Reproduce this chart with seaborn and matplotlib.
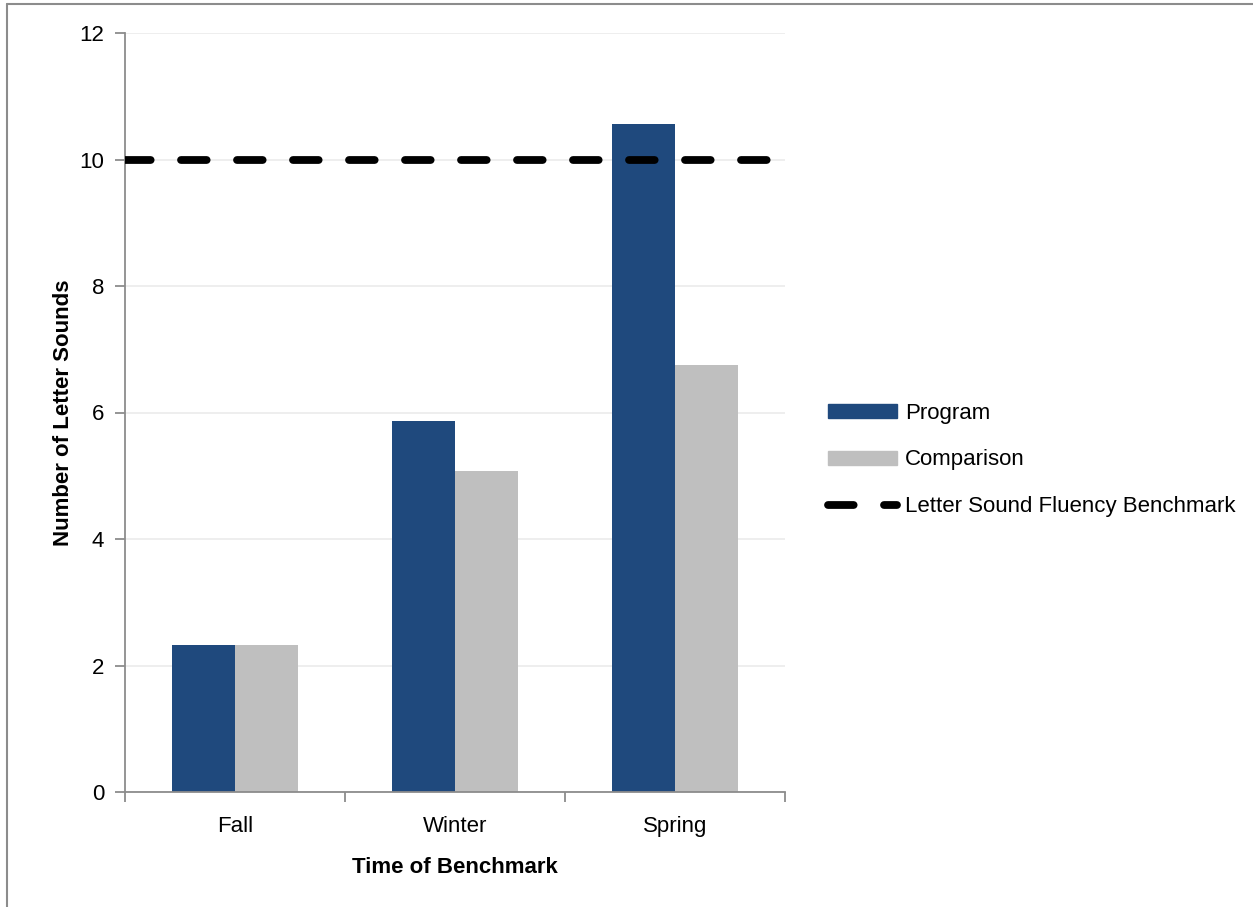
import matplotlib
matplotlib.use('Agg')
import matplotlib.pyplot as plt
import matplotlib.lines as mlines
import matplotlib.patches as mpatches
import seaborn as sns
import pandas as pd

# data
seasons = ['Fall', 'Winter', 'Spring']
program = [2.33, 5.87, 10.56]
comparison = [2.33, 5.08, 6.75]
benchmark = 10
groups = ['Program', 'Comparison']
bar_colors = ['#1F497D', '#BFBFBF']
y_ticks = [0, 2, 4, 6, 8, 10, 12]

df = pd.DataFrame({
    'season': seasons * 2,
    'value': program + comparison,
    'group': [groups[0]] * 3 + [groups[1]] * 3,
})

sns.set_style('white')
plt.rcParams['font.family'] = ['Liberation Sans', 'DejaVu Sans']
plt.rcParams['text.color'] = 'black'
plt.rcParams['axes.labelcolor'] = 'black'
plt.rcParams['xtick.color'] = 'black'
plt.rcParams['ytick.color'] = 'black'

fig = plt.figure(figsize=(12.53, 9.07), dpi=100)
ax = fig.add_axes([125 / 1253, 1 - 792 / 907, 660 / 1253, 759 / 907])

sns.barplot(data=df, x='season', y='value', hue='group', palette=bar_colors,
            width=0.57, saturation=1, edgecolor='none', linewidth=0, ax=ax,
            legend=False, zorder=2)

dash = (0, (3.3, 3.9))
ax.axhline(benchmark, color='black', lw=5.6, ls=dash,
           dash_capstyle='round', zorder=3)

ax.set_ylim(0, 12)
ax.set_xlim(-0.5, 2.5)
ax.set_yticks(y_ticks)
ax.yaxis.grid(True, color='#EBEBEB', lw=1.2, zorder=0)
ax.set_axisbelow(True)

for side in ['top', 'right']:
    ax.spines[side].set_visible(False)
for side in ['left', 'bottom']:
    ax.spines[side].set_color('#8C8C8C')
    ax.spines[side].set_linewidth(1.3)

ax.tick_params(axis='y', which='major', left=True, length=7, width=1.3,
               color='#8C8C8C', labelcolor='black', labelsize=16, pad=8)
ax.tick_params(axis='x', which='major', bottom=False, labelcolor='black',
               labelsize=16, pad=14)
ax.set_xticks([-0.5, 0.5, 1.5, 2.5], minor=True)
ax.tick_params(axis='x', which='minor', bottom=True, length=7, width=1.3,
               color='#8C8C8C')

ax.set_xlabel('Time of Benchmark', fontsize=16, fontweight='bold', labelpad=14)
ax.set_ylabel('Number of Letter Sounds', fontsize=16, fontweight='bold',
              labelpad=4)

handles = [mpatches.Patch(color=bar_colors[0], label=groups[0]),
           mpatches.Patch(color=bar_colors[1], label=groups[1]),
           mlines.Line2D([], [], color='black', lw=5.6, ls=dash,
                         dash_capstyle='round',
                         label='Letter Sound Fluency Benchmark')]
fig.legend(handles=handles, loc='center left', bbox_to_anchor=(808 / 1253, 1 - 460 / 907),
           frameon=False, fontsize=16, handlelength=3.1, handleheight=0.6,
           handletextpad=0.35, labelspacing=1.15)

# thin gray frame around the chart area
fig.add_artist(mlines.Line2D([7 / 1253, 7 / 1253], [0, 1 - 4 / 907],
                             color='#8C8C8C', lw=1.5))
fig.add_artist(mlines.Line2D([7 / 1253, 1], [1 - 4 / 907, 1 - 4 / 907],
                             color='#8C8C8C', lw=1.5))

fig.savefig('out.png', dpi=100)
